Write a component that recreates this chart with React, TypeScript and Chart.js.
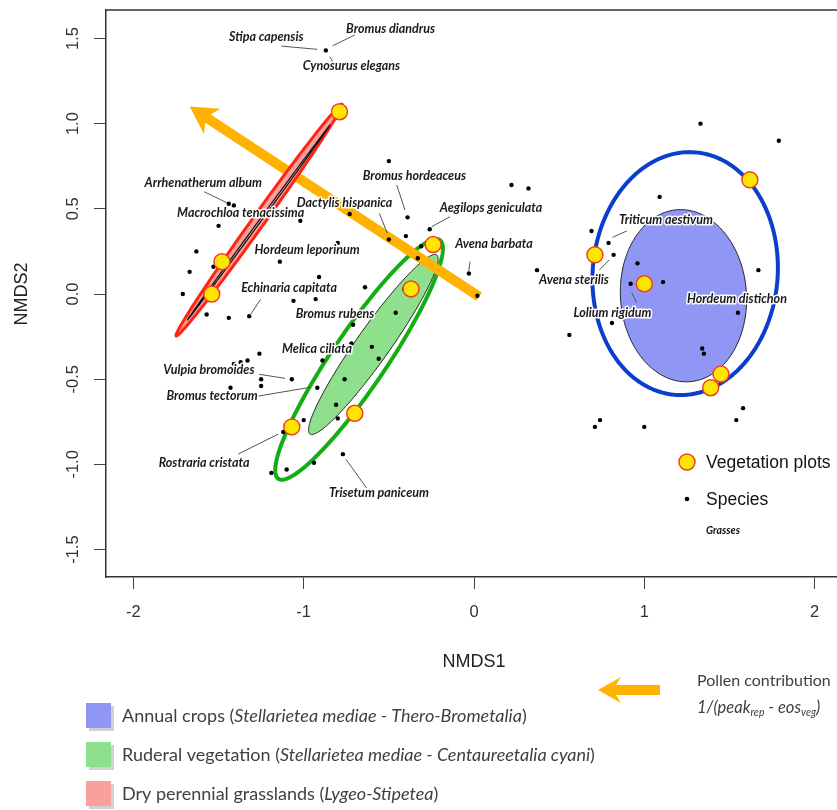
import React, { useEffect, useRef } from "react";
import { Chart, registerables } from "chart.js";

Chart.register(...registerables);

// ---------- data ----------
const xTickValues = [-2, -1, 0, 1, 2];
const yTickValues = [-1.5, -1, -0.5, 0, 0.5, 1, 1.5];

const speciesX = [
  -0.87, 1.33, 1.79, -0.5, -1.44, -1.41, -1.5, -1.63, -1.67, -1.53, -1.71, -1.57, -1.44, -1.32, -1.14, -1.06,
  -0.93, -1.02, -0.73, -0.8, -0.91, -0.64, -0.39, -0.5, -0.4, -0.26, -0.31, -0.33, -0.03, 0.02, -0.41, -0.46,
  -0.71, -1.26, -1.33, -1.37, -1.41, -0.89, -0.72, -0.6, -0.56, -1.07, -1.25, -1.25, -1.43, -0.92, -0.76, -0.81,
  -0.8, -1.0, -1.12, -1.19, -1.1, -0.94, -0.77, 0.22, 0.32, 1.09, 0.69, 0.79, 0.82, 0.69, 0.96, 0.37, 1.11, 0.92,
  1.67, 1.55, 0.81, 0.56, 1.34, 1.35, 1.46, 1.58, 1.54, 0.74, 0.71, 1.0,
];
const speciesY = [
  1.43, 1.0, 0.9, 0.78, 0.53, 0.52, 0.4, 0.25, 0.13, 0.16, 0.0, -0.12, -0.14, -0.13, 0.19, -0.04,
  -0.03, 0.43, 0.47, 0.3, 0.1, 0.04, 0.45, 0.32, 0.34, 0.38, 0.28, 0.21, 0.12, -0.01, 0.03, -0.11,
  -0.18, -0.35, -0.39, -0.4, -0.41, -0.39, -0.29, -0.31, -0.38, -0.5, -0.5, -0.54, -0.55, -0.55, -0.5, -0.65,
  -0.73, -0.74, -0.81, -1.05, -1.03, -0.99, -0.94, 0.64, 0.62, 0.57, 0.37, 0.3, 0.23, 0.22, 0.18, 0.14, 0.07, 0.06,
  0.14, -0.11, -0.17, -0.24, -0.32, -0.35, -0.49, -0.67, -0.74, -0.74, -0.78, -0.78,
];

const plotX = [-0.79, -1.48, -1.54, -0.24, -0.37, -1.07, -0.7, 0.71, 1.0, 1.62, 1.45, 1.39];
const plotY = [1.07, 0.19, 0.0, 0.29, 0.03, -0.78, -0.7, 0.23, 0.06, 0.67, -0.47, -0.55];

// ellipses (data units): centre, semi-axes, orientation of major axis (deg)
const ellipseNames = ["ruderal-sd", "ruderal-se", "crops-sd", "crops-se", "grass-sd", "grass-se"];
const ellipseCX = [-0.675, -0.591, 1.24, 1.23, -1.262, -1.264];
const ellipseCY = [-0.384, -0.296, 0.12, -0.01, 0.434, 0.42];
const ellipseMajor = [0.846, 0.644, 0.714, 0.506, 0.837, 0.709];
const ellipseMinor = [0.16, 0.098, 0.543, 0.37, 0.036, 0.006];
const ellipseAngle = [55.9, 54.7, 85, 94, 54.4, 53.8];

// pollen contribution arrow (data units)
const arrowFrom = [0.03, -0.015];
const arrowTo = [-1.67, 1.1];

// species names with label anchor and leader lines (data units)
const labelNames = [
  "Stipa capensis", "Bromus diandrus", "Cynosurus elegans", "Arrhenatherum album", "Macrochloa tenacissima",
  "Dactylis hispanica", "Bromus hordeaceus", "Aegilops geniculata", "Avena barbata", "Hordeum leporinum",
  "Echinaria capitata", "Bromus rubens", "Melica ciliata", "Vulpia bromoides", "Bromus tectorum",
  "Rostraria cristata", "Trisetum paniceum", "Triticum aestivum", "Avena sterilis", "Lolium rigidum",
  "Hordeum distichon",
];
const labelX = [-1.22, -0.49, -0.72, -1.59, -1.37, -0.76, -0.35, 0.1, 0.117, -0.98, -1.086, -0.816, -0.922, -1.557, -1.538, -1.585, -0.558, 1.127, 0.587, 0.813, 1.544];
const labelY = [1.51, 1.555, 1.338, 0.651, 0.475, 0.532, 0.694, 0.505, 0.293, 0.258, 0.033, -0.116, -0.325, -0.446, -0.599, -0.99, -1.166, 0.434, 0.082, -0.11, -0.031];
const leaderX1 = [-1.13, -0.7, -0.846, -1.584, NaN, -0.556, -0.454, -0.141, -0.023, NaN, -1.253, NaN, NaN, -1.261, -1.267, -1.384, -0.63, 0.897, 0.794, 0.955, NaN];
const leaderY1 = [1.455, 1.52, 1.393, 0.6, NaN, 0.474, 0.64, 0.454, 0.19, NaN, -0.031, NaN, NaN, -0.471, -0.599, -0.939, -1.14, 0.37, 0.2, -0.051, NaN];
const leaderX2 = [-0.92, -0.83, -0.83, -1.452, NaN, -0.509, -0.405, -0.248, -0.031, NaN, -1.311, NaN, NaN, -1.11, -0.963, -1.149, -0.752, 0.814, 0.736, 0.926, NaN];
const leaderY2 = [1.436, 1.457, 1.363, 0.536, NaN, 0.356, 0.493, 0.395, 0.137, NaN, -0.119, NaN, NaN, -0.495, -0.548, -0.822, -0.97, 0.333, 0.141, 0.008, NaN];

const legendGroups = [
  { pre: "Annual crops (", it: "Stellarietea mediae - Thero-Brometalia", post: ")" },
  { pre: "Ruderal vegetation (", it: "Stellarietea mediae - Centaureetalia cyani", post: ")" },
  { pre: "Dry perennial grasslands (", it: "Lygeo-Stipetea", post: ")" },
];

// ---------- styles ----------
const ellipseStyles = [
  { fill: null, stroke: "#12AE12", width: 4 },
  { fill: "#8EE08C", stroke: "#222", width: 1 },
  { fill: null, stroke: "#0B3ECC", width: 4 },
  { fill: "#8F96F4", stroke: "#222", width: 1 },
  { fill: "#F9A09C", stroke: "#FF2414", width: 3 },
  { fill: null, stroke: "#111", width: 1.2 },
];
const legendColors = ["#8F96F4", "#8EE08C", "#F9A09C"];
const ORANGE = "#FFB300";
const YELLOW = "#FFE600";
const PLOT_BORDER = "#F0401E";
const AXIS_FONT = "'Liberation Sans', Arial, sans-serif";
const CAL_FONT = "Lato, 'Open Sans', sans-serif";

function ellipsePath(ctx: any, xs: any, ys: any, i: number) {
  const th = (ellipseAngle[i] * Math.PI) / 180;
  const a = ellipseMajor[i];
  const b = ellipseMinor[i];
  ctx.beginPath();
  const n = 240;
  for (let k = 0; k <= n; k++) {
    const t = (k / n) * Math.PI * 2;
    const dx = a * Math.cos(t) * Math.cos(th) - b * Math.sin(t) * Math.sin(th);
    const dy = a * Math.cos(t) * Math.sin(th) + b * Math.sin(t) * Math.cos(th);
    const px = xs.getPixelForValue(ellipseCX[i] + dx);
    const py = ys.getPixelForValue(ellipseCY[i] + dy);
    if (k === 0) ctx.moveTo(px, py);
    else ctx.lineTo(px, py);
  }
  ctx.closePath();
}

function drawEllipse(ctx: any, xs: any, ys: any, i: number) {
  const st = ellipseStyles[i];
  ellipsePath(ctx, xs, ys, i);
  if (st.fill) {
    ctx.fillStyle = st.fill;
    ctx.fill();
  }
  ctx.strokeStyle = st.stroke;
  ctx.lineWidth = st.width;
  ctx.stroke();
}

function drawArrow(ctx: any, x1: number, y1: number, x2: number, y2: number, shaft: number, headLen: number, headHalf: number) {
  const dx = x2 - x1;
  const dy = y2 - y1;
  const len = Math.hypot(dx, dy);
  const ux = dx / len;
  const uy = dy / len;
  const px = -uy;
  const py = ux;
  const bx = x2 - ux * headLen;
  const by = y2 - uy * headLen;
  ctx.fillStyle = ORANGE;
  ctx.beginPath();
  ctx.moveTo(x1 + px * shaft / 2, y1 + py * shaft / 2);
  ctx.lineTo(bx + ux * 2 + px * shaft / 2, by + uy * 2 + py * shaft / 2);
  ctx.lineTo(bx - ux * 3 + px * headHalf, by - uy * 3 + py * headHalf);
  ctx.lineTo(x2, y2);
  ctx.lineTo(bx - ux * 3 - px * headHalf, by - uy * 3 - py * headHalf);
  ctx.lineTo(bx + ux * 2 - px * shaft / 2, by + uy * 2 - py * shaft / 2);
  ctx.lineTo(x1 - px * shaft / 2, y1 - py * shaft / 2);
  ctx.closePath();
  ctx.fill();
}

const customPlugin = {
  id: "nmdsDecor",
  beforeDatasetsDraw(chart: any) {
    const { ctx, chartArea, scales } = chart;
    const xs = scales.x;
    const ys = scales.y;
    ctx.save();
    ctx.beginPath();
    ctx.rect(chartArea.left, chartArea.top, chartArea.right - chartArea.left, chartArea.bottom - chartArea.top);
    ctx.clip();
    ctx.lineJoin = "round";
    for (let i = 0; i < 4; i++) drawEllipse(ctx, xs, ys, i);
    drawArrow(
      ctx,
      xs.getPixelForValue(arrowFrom[0]),
      ys.getPixelForValue(arrowFrom[1]),
      xs.getPixelForValue(arrowTo[0]),
      ys.getPixelForValue(arrowTo[1]),
      10,
      24,
      15
    );
    for (let i = 4; i < 6; i++) drawEllipse(ctx, xs, ys, i);
    ctx.restore();
  },
  afterDatasetsDraw(chart: any) {
    const { ctx, scales } = chart;
    const xs = scales.x;
    const ys = scales.y;
    ctx.save();
    // leader lines
    ctx.strokeStyle = "#555";
    ctx.lineWidth = 1;
    for (let i = 0; i < labelNames.length; i++) {
      if (isNaN(leaderX1[i])) continue;
      ctx.beginPath();
      ctx.moveTo(xs.getPixelForValue(leaderX1[i]), ys.getPixelForValue(leaderY1[i]));
      ctx.lineTo(xs.getPixelForValue(leaderX2[i]), ys.getPixelForValue(leaderY2[i]));
      ctx.stroke();
    }
    // labels
    ctx.font = `italic bold 12.5px ${CAL_FONT}`;
    ctx.textAlign = "center";
    ctx.textBaseline = "middle";
    ctx.lineJoin = "round";
    for (let i = 0; i < labelNames.length; i++) {
      const lx = xs.getPixelForValue(labelX[i]);
      const ly = ys.getPixelForValue(labelY[i]);
      ctx.strokeStyle = "rgba(255,255,255,0.95)";
      ctx.lineWidth = 3;
      ctx.strokeText(labelNames[i], lx, ly);
      ctx.fillStyle = "#1a1a1a";
      ctx.fillText(labelNames[i], lx, ly);
    }
    // inner legend
    ctx.beginPath();
    ctx.arc(687, 462, 8, 0, Math.PI * 2);
    ctx.fillStyle = YELLOW;
    ctx.fill();
    ctx.strokeStyle = PLOT_BORDER;
    ctx.lineWidth = 1.5;
    ctx.stroke();
    ctx.beginPath();
    ctx.arc(687, 499, 2.3, 0, Math.PI * 2);
    ctx.fillStyle = "#000";
    ctx.fill();
    ctx.textAlign = "left";
    ctx.fillStyle = "#111";
    ctx.font = `17.5px ${AXIS_FONT}`;
    ctx.fillText("Vegetation plots", 706, 463);
    ctx.fillText("Species", 706, 500);
    ctx.font = `italic bold 10.5px ${CAL_FONT}`;
    ctx.fillText("Grasses", 706, 531);
    ctx.restore();
  },
  afterDraw(chart: any) {
    const { ctx, chartArea, scales } = chart;
    const xs = scales.x;
    const ys = scales.y;
    ctx.save();
    // top frame line
    ctx.strokeStyle = "#333";
    ctx.lineWidth = 1.5;
    ctx.beginPath();
    ctx.moveTo(chartArea.left, chartArea.top);
    ctx.lineTo(chartArea.right, chartArea.top);
    ctx.stroke();
    ctx.fillStyle = "#333";
    ctx.font = `16.5px ${AXIS_FONT}`;
    ctx.textAlign = "center";
    ctx.textBaseline = "middle";
    // x tick labels
    for (const v of xTickValues) {
      ctx.fillText(String(v), xs.getPixelForValue(v), 612);
    }
    // y tick labels (rotated)
    for (const v of yTickValues) {
      const py = ys.getPixelForValue(v);
      ctx.save();
      ctx.translate(73, py);
      ctx.rotate(-Math.PI / 2);
      ctx.fillText(v.toFixed(1), 0, 0);
      ctx.restore();
    }
    // axis titles
    ctx.font = `18px ${AXIS_FONT}`;
    ctx.fillStyle = "#222";
    ctx.fillText("NMDS1", 474, 662);
    ctx.save();
    ctx.translate(22, 294);
    ctx.rotate(-Math.PI / 2);
    ctx.fillText("NMDS2", 0, 0);
    ctx.restore();

    // bottom legend boxes
    const rowY = [716, 755, 794];
    ctx.textAlign = "left";
    for (let i = 0; i < legendGroups.length; i++) {
      ctx.fillStyle = "rgba(0,0,0,0.18)";
      ctx.fillRect(89, rowY[i] - 10, 25, 25);
      ctx.fillStyle = legendColors[i];
      ctx.fillRect(86, rowY[i] - 13, 25, 25);
      let x = 122;
      const g = legendGroups[i];
      ctx.fillStyle = "#404040";
      ctx.font = `18px ${CAL_FONT}`;
      ctx.fillText(g.pre, x, rowY[i]);
      x += ctx.measureText(g.pre).width;
      ctx.font = `italic 18px ${CAL_FONT}`;
      ctx.fillText(g.it, x, rowY[i]);
      x += ctx.measureText(g.it).width;
      ctx.font = `18px ${CAL_FONT}`;
      ctx.fillText(g.post, x, rowY[i]);
    }

    // pollen arrow legend
    drawArrow(ctx, 660, 690, 598, 690, 10, 20, 13);
    ctx.fillStyle = "#404040";
    ctx.font = `16px ${CAL_FONT}`;
    ctx.textBaseline = "middle";
    ctx.fillText("Pollen contribution", 697, 681);
    let x = 697;
    const by = 708;
    const parts: [string, boolean][] = [
      ["1/(peak", false],
      ["rep", true],
      [" - eos", false],
      ["veg", true],
      [")", false],
    ];
    for (const [t, sub] of parts) {
      ctx.font = sub ? `italic 10.5px ${CAL_FONT}` : `italic 16.5px ${CAL_FONT}`;
      ctx.fillText(t, x, sub ? by + 5 : by);
      x += ctx.measureText(t).width;
    }
    ctx.restore();
  },
};

export default function App() {
  const canvasRef = useRef<HTMLCanvasElement | null>(null);

  useEffect(() => {
    document.body.style.margin = "0";
    document.body.style.overflow = "hidden";
    const canvas = canvasRef.current;
    if (!canvas) return;

    const speciesData = speciesX.map((v, i) => ({ x: v, y: speciesY[i] }));
    const plotData = plotX.map((v, i) => ({ x: v, y: plotY[i] }));

    const chart = new Chart(canvas, {
      type: "scatter",
      data: {
        datasets: [
          {
            label: "Vegetation plots",
            data: plotData,
            pointRadius: 8,
            pointBackgroundColor: YELLOW,
            pointBorderColor: PLOT_BORDER,
            pointBorderWidth: 1.5,
            order: 0,
          },
          {
            label: "Species",
            data: speciesData,
            pointRadius: 2.2,
            pointBackgroundColor: "#000",
            pointBorderColor: "#000",
            pointBorderWidth: 0,
            order: 1,
          },
        ],
      },
      options: {
        responsive: false,
        animation: false,
        devicePixelRatio: 1,
        layout: { autoPadding: false, padding: { top: 10, left: 0, right: 0, bottom: 0 } },
        plugins: { legend: { display: false }, tooltip: { enabled: false } },
        scales: {
          x: {
            type: "linear",
            position: "bottom",
            min: -2.161,
            max: 2.1316,
            afterBuildTicks: (s: any) => {
              s.ticks = xTickValues.map((v) => ({ value: v }));
            },
            afterFit: (s: any) => {
              s.height = 233;
            },
            grid: { drawOnChartArea: false, drawTicks: true, tickLength: 12, color: "#444", lineWidth: 1 },
            border: { display: true, color: "#333", width: 1.5 },
            ticks: { display: false },
          },
          y: {
            type: "linear",
            min: -1.661,
            max: 1.667,
            afterBuildTicks: (s: any) => {
              s.ticks = yTickValues.map((v) => ({ value: v }));
            },
            afterFit: (s: any) => {
              s.width = 106;
            },
            grid: { drawOnChartArea: false, drawTicks: true, tickLength: 12, color: "#444", lineWidth: 1 },
            border: { display: true, color: "#333", width: 1.5 },
            ticks: { display: false },
          },
        },
      },
      plugins: [customPlugin],
    } as any);

    return () => chart.destroy();
  }, []);

  return (
    <div style={{ width: 837, height: 810, background: "#fff" }}>
      <canvas ref={canvasRef} width={837} height={810} style={{ display: "block", width: 837, height: 810 }} />
    </div>
  );
}
